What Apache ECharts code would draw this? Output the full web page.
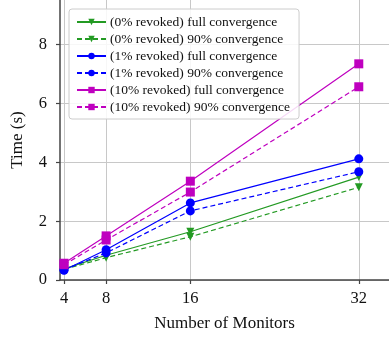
<!DOCTYPE html>
<html>
<head>
<meta charset="utf-8">
<script src="https://cdn.jsdelivr.net/npm/echarts@6/dist/echarts.min.js"></script>
<style>html,body{margin:0;padding:0;background:#fff}#c{width:389px;height:339px}</style>
</head>
<body>
<div id="c"></div>
<script>
const monitors = [4, 8, 16, 32];
const xTicks = [4, 8, 16, 32];
const yTicks = [0, 2, 4, 6, 8];
const full0 = [0.38, 0.84, 1.64, 3.50];
const conv0 = [0.36, 0.76, 1.47, 3.15];
const full1 = [0.33, 1.03, 2.62, 4.12];
const conv1 = [0.35, 0.92, 2.35, 3.68];
const full10 = [0.57, 1.50, 3.36, 7.35];
const conv10 = [0.52, 1.36, 2.99, 6.57];
const names = [
  '(0% revoked) full convergence',
  '(0% revoked) 90% convergence',
  '(1% revoked) full convergence',
  '(1% revoked) 90% convergence',
  '(10% revoked) full convergence',
  '(10% revoked) 90% convergence'
];

const GREEN = '#239a23', BLUE = '#0000ff', MAG = '#bf00bf';
const FONT = 'Liberation Serif';
function pts(arr) { return monitors.map((m, i) => [m, arr[i]]); }
function mk(name, arr, color, dashed, symbol, size, rot) {
  return {
    name: name, type: 'line', data: pts(arr), symbol: symbol, symbolSize: size,
    symbolRotate: rot || 0, showSymbol: true,
    itemStyle: { color: color },
    lineStyle: { color: color, width: 1.2, type: dashed ? [5, 3] : 'solid' },
    emphasis: { disabled: true }, animation: false
  };
}
const chart = echarts.init(document.getElementById('c'), null, { renderer: 'canvas' });
chart.setOption({
  animation: false,
  grid: { left: 60, right: 0, top: 0, bottom: 59, containLabel: false },
  legend: {
    orient: 'vertical', left: 69, top: 9,
    padding: [6, 9, 5, 7],
    itemWidth: 29, itemHeight: 8, itemGap: 3,
    backgroundColor: 'rgba(255,255,255,0.85)',
    borderColor: '#cccccc', borderWidth: 1, borderRadius: 3,
    textStyle: { fontFamily: FONT, fontSize: 13.5, color: '#111', lineHeight: 14, padding: [0, 0, 0, -1] },
    data: names
  },
  xAxis: {
    type: 'value', min: 3.62, max: 34.87,
    name: 'Number of Monitors', nameLocation: 'middle', nameGap: 35,
    nameTextStyle: { fontFamily: FONT, fontSize: 17, color: '#111' },
    axisLine: { show: true, onZero: false, lineStyle: { color: '#444', width: 1.5 } },
    axisTick: { show: true, inside: false, length: 4, customValues: xTicks, lineStyle: { color: '#444', width: 1.2 } },
    axisLabel: { customValues: xTicks, fontFamily: FONT, fontSize: 16.5, color: '#111', margin: 10 },
    splitLine: { show: true, lineStyle: { color: '#c8c8c8', width: 1 } }
  },
  yAxis: {
    type: 'value', min: 0, max: 9.52,
    name: 'Time (s)', nameLocation: 'middle', nameGap: 34, nameRotate: 90,
    nameTextStyle: { fontFamily: FONT, fontSize: 17, color: '#111' },
    axisLine: { show: true, onZero: false, lineStyle: { color: '#444', width: 1.5 } },
    axisTick: { show: true, inside: false, length: 4, customValues: yTicks, lineStyle: { color: '#444', width: 1.2 } },
    axisLabel: { customValues: yTicks, fontFamily: FONT, fontSize: 16.5, color: '#111', margin: 13 },
    splitLine: { show: true, lineStyle: { color: '#c8c8c8', width: 1 } }
  },
  series: [
    mk(names[0], full0, GREEN, false, 'triangle', 8, 180),
    mk(names[1], conv0, GREEN, true, 'triangle', 8, 180),
    mk(names[2], full1, BLUE, false, 'circle', 9),
    mk(names[3], conv1, BLUE, true, 'circle', 9),
    mk(names[4], full10, MAG, false, 'rect', 9),
    mk(names[5], conv10, MAG, true, 'rect', 9)
  ]
});
</script>
</body>
</html>
